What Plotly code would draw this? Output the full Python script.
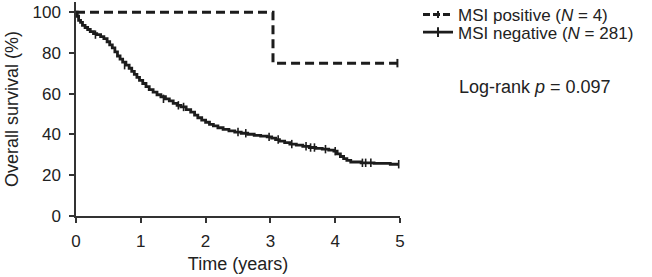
import plotly.graph_objects as go

# ---- data ----
pos_time = [0, 3.04, 4.96]
pos_surv = [100, 75, 75]
pos_censor_t = [4.96]
pos_censor_s = [75]

neg_time = [0, 0.02, 0.04, 0.07, 0.10, 0.14, 0.18, 0.22, 0.27, 0.32, 0.38, 0.43, 0.48,
            0.52, 0.56, 0.60, 0.64, 0.68, 0.72, 0.77, 0.82, 0.86, 0.90, 0.94, 0.98,
            1.03, 1.08, 1.13, 1.19, 1.25, 1.31, 1.38, 1.44, 1.50, 1.56, 1.62, 1.70,
            1.77, 1.83, 1.88, 1.94, 2.00, 2.06, 2.12, 2.19, 2.27, 2.36, 2.45, 2.55,
            2.65, 2.75, 2.85, 2.95, 3.02, 3.08, 3.14, 3.22, 3.30, 3.40, 3.50, 3.60,
            3.70, 3.80, 3.90, 3.98, 4.03, 4.08, 4.13, 4.18, 4.24, 4.40, 4.60, 4.85, 4.98]
neg_surv = [100, 98, 96, 95, 93.5, 92.5, 91.5, 90.5, 89.5, 89, 88, 87, 85.5,
            84, 82.5, 80.5, 78.5, 77, 75.5, 74, 72.5, 71, 69.5, 68, 66.5,
            65, 63.5, 62, 60.8, 59.5, 58.5, 57.5, 56.5, 55.3, 54.3, 53.5, 52.2,
            51, 49.5, 48.2, 47, 46, 45, 44.2, 43.3, 42.5, 41.8, 41.2, 40.6,
            40.1, 39.6, 39.2, 38.8, 38.2, 37.5, 36.7, 36, 35.3, 34.8, 34.2, 33.6,
            33.2, 32.8, 32.3, 31.8, 30.5, 29.2, 28.2, 27.3, 26.5, 26.1, 25.8, 25.4, 25.4]
neg_censor_t = [0.30, 0.75, 1.35, 1.58, 1.66, 2.50, 2.62, 2.98, 3.12, 3.33, 3.55,
                3.62, 3.68, 3.85, 4.00, 4.42, 4.47, 4.55, 4.98]
neg_censor_s = [89, 74, 57.5, 54.3, 53.5, 41.2, 40.6, 38.8, 37.5, 35.3, 34.2,
                33.6, 33.6, 32.8, 31.8, 26.1, 26.1, 26.1, 25.4]

x_ticks = [0, 1, 2, 3, 4, 5]
y_ticks = [0, 20, 40, 60, 80, 100]

labels = ["MSI positive (<i>N</i> = 4)", "MSI negative (<i>N</i> = 281)"]
pval_text = "Log-rank <i>p</i> = 0.097"

LINE = "#1c1c1c"
TEXT = "#222222"
FONT = "Liberation Sans, Arial, Helvetica, sans-serif"

fig = go.Figure()

fig.add_trace(go.Scatter(x=neg_time, y=neg_surv, mode="lines", line_shape="hv",
                         line=dict(color=LINE, width=2.8), showlegend=False))
fig.add_trace(go.Scatter(x=neg_censor_t, y=neg_censor_s, mode="markers",
                         marker=dict(symbol="line-ns-open", size=6, color=LINE,
                                     line=dict(color=LINE, width=1.6)),
                         showlegend=False))
fig.add_trace(go.Scatter(x=pos_time, y=pos_surv, mode="lines", line_shape="hv",
                         line=dict(color=LINE, width=3, dash="9px,5px"), showlegend=False))
fig.add_trace(go.Scatter(x=pos_censor_t, y=pos_censor_s, mode="markers",
                         marker=dict(symbol="line-ns-open", size=6, color=LINE,
                                     line=dict(color=LINE, width=2)),
                         showlegend=False))

# legend entries
fig.add_trace(go.Scatter(x=[None], y=[None], mode="lines+markers", name=labels[0],
                         line=dict(color=LINE, width=3, dash="7px,3px"),
                         marker=dict(symbol="line-ns-open", size=5, color=LINE,
                                     line=dict(color=LINE, width=2)),
                         legend="legend"))
fig.add_trace(go.Scatter(x=[None], y=[None], mode="lines+markers", name=labels[1],
                         line=dict(color=LINE, width=2.8),
                         marker=dict(symbol="line-ns-open", size=7, color=LINE,
                                     line=dict(color=LINE, width=2)),
                         legend="legend2"))

L, R, T, B = 76, 252, 2, 61
W, H = 652, 277


def cx(p):
    return p / W


def cy(p):
    return 1 - p / H


legend_common = dict(font=dict(family=FONT, size=17, color=TEXT),
                     bgcolor="rgba(0,0,0,0)", itemwidth=30,
                     xref="container", yref="container",
                     xanchor="left", yanchor="middle", borderwidth=0)

fig.update_layout(
    width=W, height=H,
    margin=dict(l=L, r=R, t=T, b=B, autoexpand=False),
    paper_bgcolor="white", plot_bgcolor="white",
    font=dict(family=FONT, size=17, color=TEXT),
    legend=dict(x=cx(418), y=cy(15), **legend_common),
    legend2=dict(x=cx(418), y=cy(32.5), **legend_common),
    xaxis=dict(range=[0, 5], tickvals=x_ticks, ticktext=[str(v) for v in x_ticks],
               showgrid=False, zeroline=False, showline=True, linecolor="#333",
               linewidth=1.5, ticks="outside", ticklen=5, tickwidth=1.5, tickcolor="#333",
               ticklabelstandoff=4, automargin=False,
               tickfont=dict(size=17), title=dict(text="Time (years)", font=dict(size=18),
                                                  standoff=7)),
    yaxis=dict(range=[0, 105], tickvals=y_ticks, ticktext=[str(v) for v in y_ticks],
               showgrid=False, zeroline=False, showline=True, linecolor="#333",
               linewidth=1.5, ticks="outside", ticklen=5, tickwidth=1.5, tickcolor="#333",
               ticklabelstandoff=5, automargin=False,
               tickfont=dict(size=17),
               title=dict(text="Overall survival (%)", font=dict(size=18), standoff=9)),
    annotations=[dict(text=pval_text, xref="paper", yref="paper",
                      x=(457 - L) / (W - L - R), y=(H - B - 87) / (H - T - B),
                      xanchor="left", yanchor="middle",
                      showarrow=False, font=dict(family=FONT, size=18, color=TEXT))],
)

fig.write_html("out.html", config={"displayModeBar": False},
               post_script="document.body.style.margin='0';document.body.style.padding='0';")
